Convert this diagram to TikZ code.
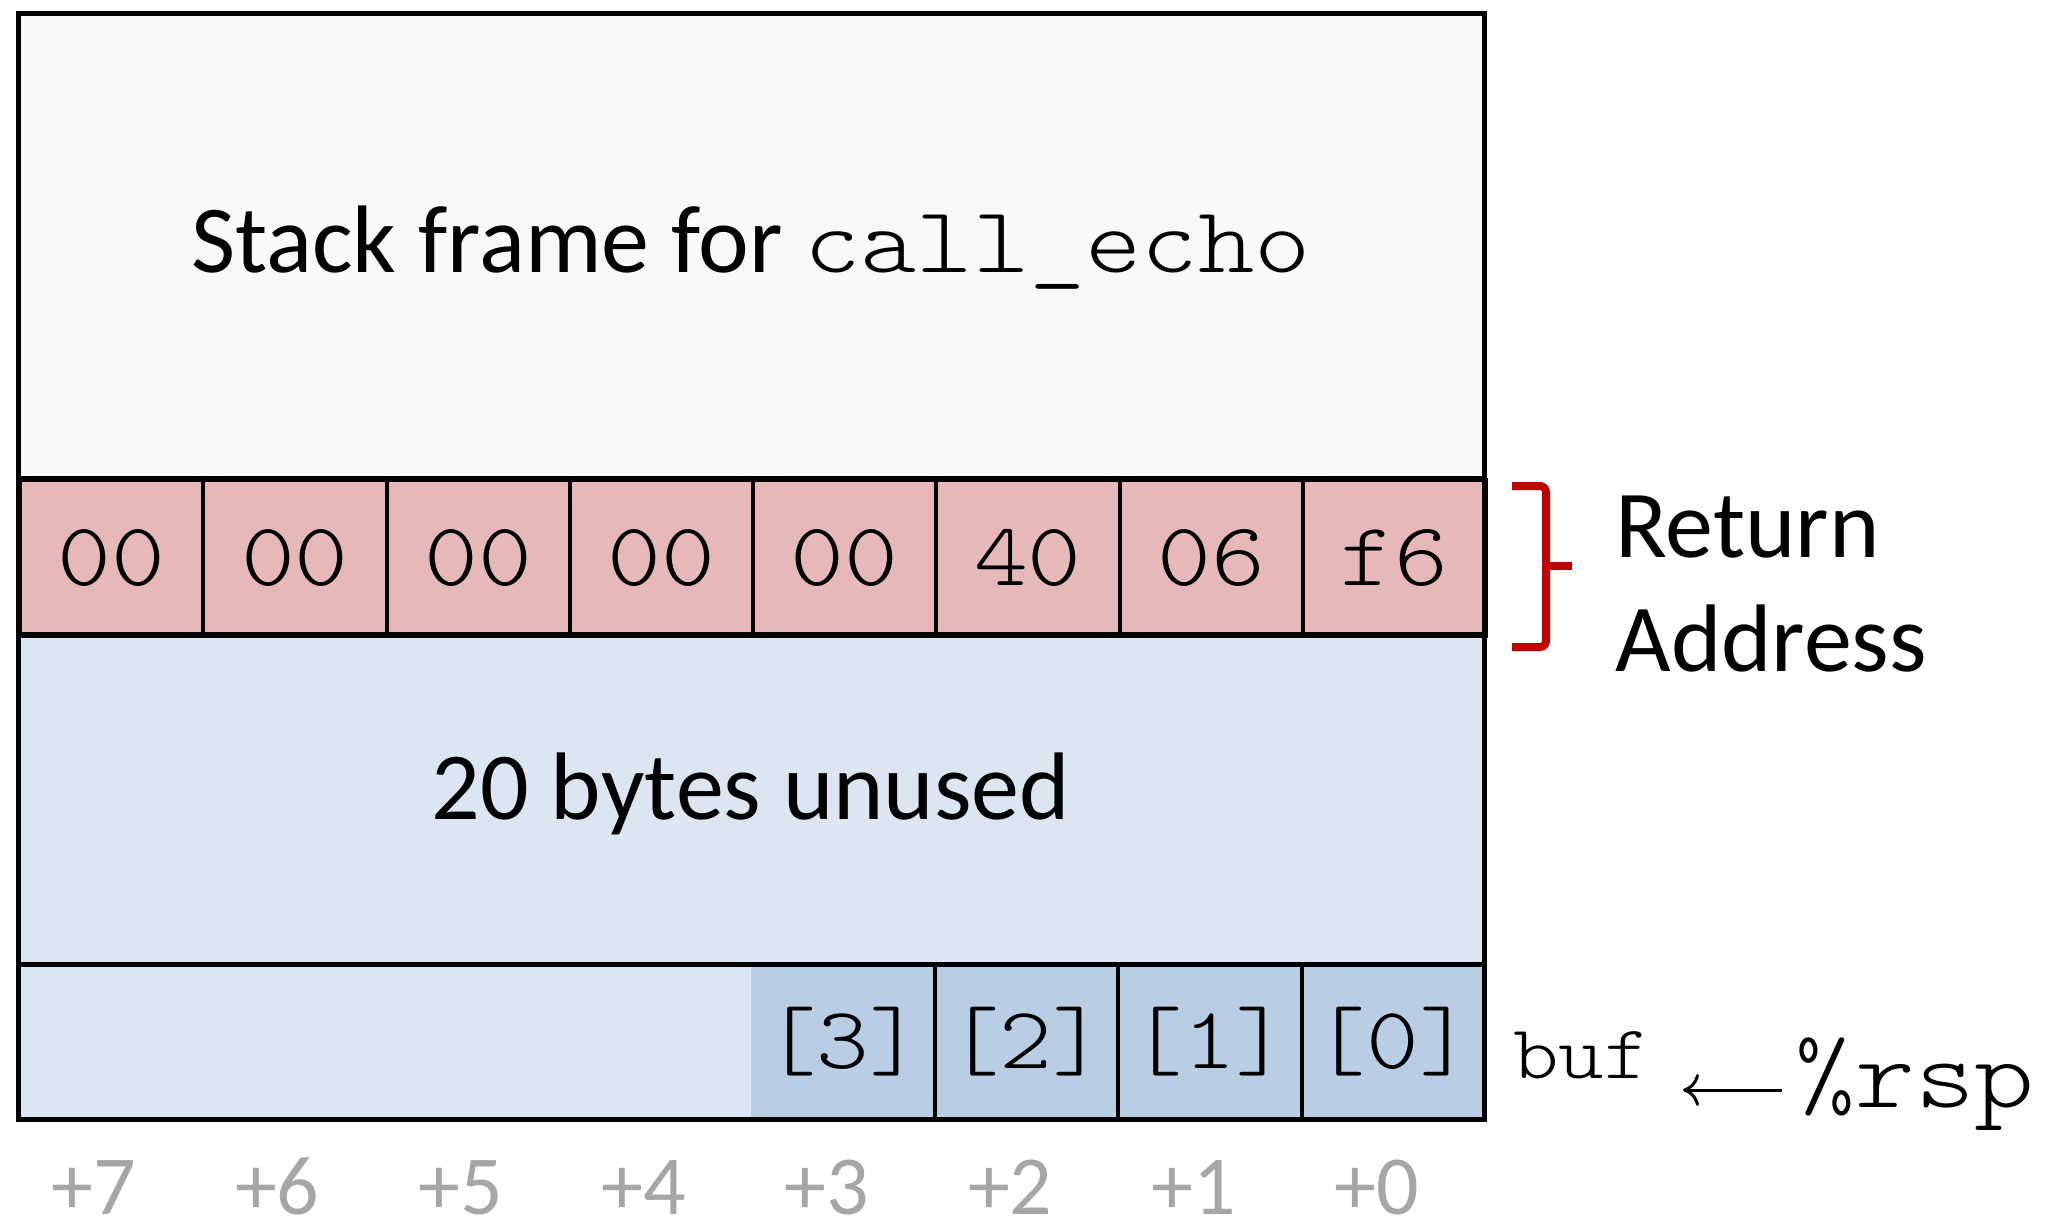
\documentclass[tikz,border=0pt]{standalone}
\usepackage{fontspec}
\setmainfont{Carlito}
\newfontfamily\courier{lmmonolt10-regular.otf}[FakeStretch=1.14]
\usetikzlibrary{arrows.meta,positioning,calc}
\definecolor{framefill}{HTML}{FAF9F7}
\definecolor{retfill}{HTML}{E6B9B8}
\definecolor{unusedfill}{HTML}{DCE6F2}
\definecolor{buffill}{HTML}{B9CDE5}
\definecolor{bracered}{HTML}{C00000}
\definecolor{offgray}{HTML}{A6A6A6}
\tikzset{
  hexcell/.style={draw=black,line width=2pt,fill=retfill,anchor=north west,inner sep=0pt,
    minimum width=91.625pt,minimum height=78pt,font=\courier\fontsize{45}{54}\selectfont},
  bufcell/.style={fill=buffill,anchor=north west,inner sep=0pt,
    minimum width=91.625pt,minimum height=77.5pt,font=\courier\fontsize{44}{52}\selectfont},
  divider/.style={line width=2pt},
  bodytext/.style={inner sep=0pt,font=\fontsize{48}{57}\selectfont},
  offlabel/.style={inner sep=0pt,anchor=base,text=offgray,font=\fontsize{42}{50}\selectfont},
  brace/.style={draw=bracered,line width=4pt,rounded corners=3pt},
  ptr/.style={line width=1.5pt,-{To[length=8pt,width=16pt]}}
}
\begin{document}
\begin{tikzpicture}[x=0.5pt,y=-0.5pt]
            \useasboundingbox (0,0) rectangle (2054,1228);
            \fill[framefill] (18,13) rectangle (1484,478);
            \fill[unusedfill] (18,634) rectangle (1484,1119);
            \foreach \b [count=\i from 0] in {00,00,00,00,00,40,06,f6}
              \node[hexcell] (ret\i) at (18+\i*183.25,478) {\b};
            \foreach \k [count=\i from 4] in {3,2,1,0}
              \node[bufcell] (buf\k) at (18+\i*183.25,964) {[\k]};
            \foreach \k in {3,2,1}
              \draw[divider] (buf\k.north east) -- (buf\k.south east);
            \draw[line width=2.5pt] (18,478) -- (1484,478) (18,634) -- (1484,634) (18,964) -- (1484,964);
            \draw[line width=2.5pt] (18,13) rectangle (1484,1119);
            \node[bodytext,anchor=base] (title) at (751,272) {Stack frame for {\courier\fontsize{47}{56}\selectfont call\_echo}};
            \node[bodytext,anchor=base] (unused) at (751,819) {20 bytes unused};
            \draw[brace] (1512,486) -- (1546,486) -- (1546,647) -- (1512,647);
            \draw[brace] (1546,566) -- (1572,566);
            \node[bodytext,anchor=base west,align=left] (retaddr) at (1615,671) {Return\\Address};
            \node[inner sep=0pt,anchor=base west,font=\courier\fontsize{38}{46}\selectfont] (buflabel) at (1513,1078) {buf};
            \node[inner sep=0pt,anchor=base west,font=\courier\fontsize{50}{60}\selectfont] (rsp) at (1795,1107) {\%rsp};
            \coordinate (rsptail) at (1782,1090);
            \coordinate (rsphead) at (1683,1090);
            \draw[ptr] (rsptail) -- (rsphead);
            \foreach \o [count=\i from 0] in {7,6,...,0}
              \node[offlabel] (off\o) at (18+\i*183.25+76,1214) {+\o};
          \end{tikzpicture}
\end{document}
